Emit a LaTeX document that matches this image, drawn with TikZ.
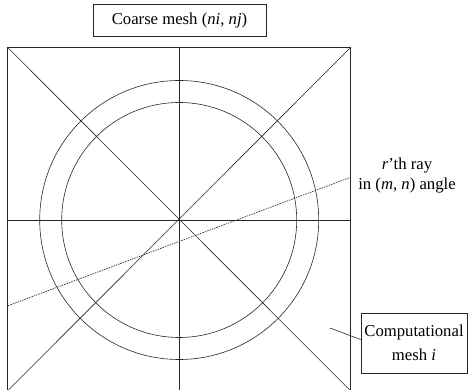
\documentclass[tikz,border=0pt]{standalone}
\usepackage{fontspec}
\setmainfont{Liberation Serif}
\usetikzlibrary{positioning,calc}

\begin{document}
\begin{tikzpicture}[
  x=1pt,y=1pt,
  font=\fontsize{16.7}{20}\selectfont,
  mesh/.style={draw=black!85, line width=0.6pt},
  ray/.style={draw=black!80, line width=0.7pt, dash pattern=on 1.5pt off 1pt},
  box/.style={draw=black!85, line width=0.6pt, align=center, inner sep=2pt},
  lbl/.style={align=center, inner sep=0pt},
]
\useasboundingbox (0,0) rectangle (469,390);
% coarse mesh cell
\coordinate (sw) at (7.5,-1);
\coordinate (ne) at (350.7,342.7);
\coordinate (c) at (179.2,170);
\draw[mesh, line width=0.8pt] (sw) rectangle (ne);
\draw[mesh] (sw) -- (ne);
\draw[mesh] (sw |- ne) -- (ne |- sw);
\draw[mesh] (sw |- c) -- (ne |- c);
\draw[mesh] (c |- sw) -- (c |- ne);
% computational mesh rings
\draw[mesh] (c) circle[radius=139.5];
\draw[mesh] (c) circle[radius=117.5];
% ray
\coordinate (r0) at (8,84.3);
\coordinate (r1) at (350.5,212.7);
\draw[ray] (r0) -- (r1);
% labels
\node[box, minimum width=173, minimum height=32] (coarse) at (179.5,370)
  {Coarse mesh (\textit{ni}, \textit{nj})};
\node[lbl] (raylbl) at (407,214) {\textit{r}'th ray\\in (\textit{m}, \textit{n}) angle};
\node[box, minimum width=106, minimum height=60,
  font=\fontsize{16.7}{24}\selectfont] (comp) at (414,47)
  {Computational\\mesh \textit{i}};
\coordinate (lead) at (330,62);
\draw[mesh] (lead) -- ([yshift=3.5pt]comp.west);
\end{tikzpicture}
\end{document}
